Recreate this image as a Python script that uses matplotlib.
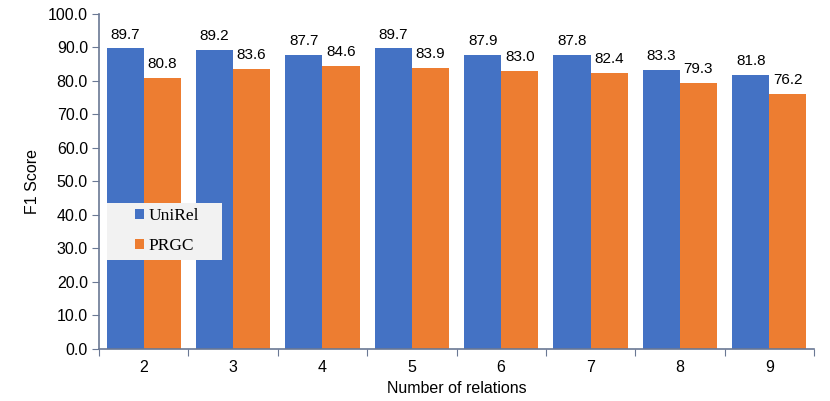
import numpy as np
import matplotlib.pyplot as plt
from matplotlib.patches import Rectangle
from matplotlib.ticker import FixedLocator, NullFormatter, FixedFormatter

# datos
relaciones = ["2", "3", "4", "5", "6", "7", "8", "9"]
unirel = [89.7, 89.2, 87.7, 89.7, 87.9, 87.8, 83.3, 81.8]
prgc = [80.8, 83.6, 84.6, 83.9, 83.0, 82.4, 79.3, 76.2]

plt.rcParams['font.family'] = ['Liberation Sans', 'DejaVu Sans']

fig = plt.figure(figsize=(8.3, 4.01), dpi=100)
ax = fig.add_axes([0.1193, 0.1297, 0.8614, 0.8354])

x = np.arange(len(relaciones))
w = 0.415
b1 = ax.bar(x - w/2, unirel, w, color="#4472C4", label="UniRel")
b2 = ax.bar(x + w/2, prgc, w, color="#ED7D31", label="PRGC")

for barras in (b1, b2):
    ax.bar_label(barras, labels=["{:.1f}".format(v) for v in barras.datavalues],
                 padding=5, fontsize=11)

ax.set_xlim(-0.5, len(relaciones) - 0.5)
ax.set_ylim(0, 100)
ax.set_yticks(np.arange(0, 101, 10))
ax.set_yticklabels(["{:.1f}".format(v) for v in np.arange(0, 101, 10)])

# ticks entre categorias (estilo Excel)
ax.xaxis.set_major_locator(FixedLocator(np.arange(-0.5, len(relaciones), 1)))
ax.xaxis.set_major_formatter(NullFormatter())
ax.xaxis.set_minor_locator(FixedLocator(x))
ax.xaxis.set_minor_formatter(FixedFormatter(relaciones))
ax.tick_params(axis="x", which="minor", length=0, pad=8, labelsize=11.5)
ax.tick_params(axis="x", which="major", length=5, color="#6a7894")
ax.tick_params(axis="y", length=5, color="#6a7894", labelsize=11.5, pad=3)

for s in ("top", "right"):
    ax.spines[s].set_visible(False)
for s in ("left", "bottom"):
    ax.spines[s].set_color("#6a7894")
    ax.spines[s].set_linewidth(1.2)

ax.set_xlabel("Number of relations", fontsize=11.5, labelpad=4)
ax.set_ylabel("F1 Score", fontsize=11.5, labelpad=6)

# fondo gris de la leyenda
ax.add_patch(Rectangle((0.0112, 0.2657), 0.161, 0.170, transform=ax.transAxes,
                       facecolor="#f2f2f2", edgecolor="none", zorder=4))
leg = ax.legend(loc="center left", bbox_to_anchor=(0.0503, 0.352), frameon=False,
                prop={"family": "Liberation Serif", "size": 12.5},
                handlelength=0.5, handleheight=0.5, handletextpad=0.3,
                labelspacing=0.8, borderpad=0, borderaxespad=0)
leg.set_zorder(5)

fig.savefig("out.png", dpi=100)
